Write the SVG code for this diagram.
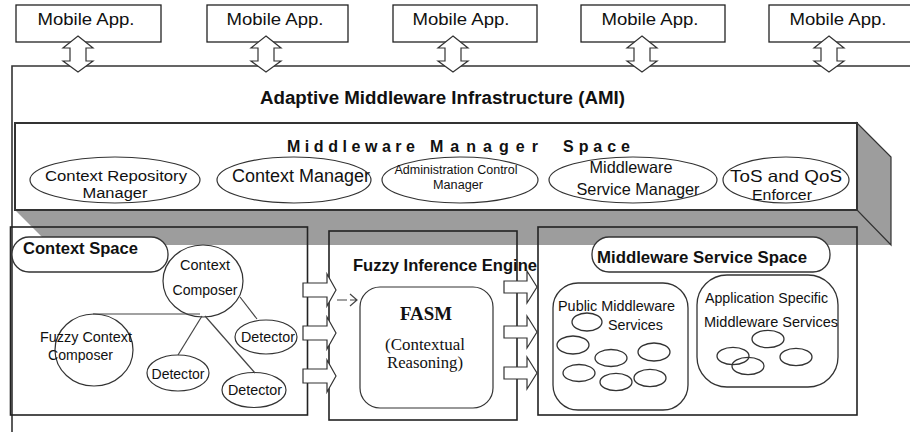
<svg xmlns="http://www.w3.org/2000/svg" width="910" height="432" viewBox="0 0 910 432">
<style>
.t{font-family:"Liberation Sans",Arial,sans-serif;fill:#111}
.b{font-weight:bold}
.s{font-family:"Liberation Serif","Times New Roman",serif;fill:#111}
.box{fill:#fff;stroke:#222;stroke-width:1.3}
.frame{fill:none;stroke:#222;stroke-width:1.6}
.el{fill:#fff;stroke:#333;stroke-width:1.2}
.sm{fill:none;stroke:#333;stroke-width:1.3}
.lbl{fill:#fff;stroke:#333;stroke-width:1.3}
.arr{fill:#fff;stroke:#333;stroke-width:1.2}
.ln{stroke:#444;stroke-width:1.2;fill:none}
</style>
<rect x="0" y="0" width="910" height="432" fill="#fff"/>
<g id="ami">
<path d="M12,440 V66 H920" fill="none" stroke="#333" stroke-width="1.6"/>
<text class="t b" x="260" y="104" font-size="18" textLength="365" lengthAdjust="spacingAndGlyphs">Adaptive Middleware Infrastructure (AMI)</text>
</g>
<g id="apps">
<g id="app1"><rect class="box" x="16" y="5" width="145" height="37"/><text class="t" x="86" y="25" font-size="17" text-anchor="middle" textLength="97" lengthAdjust="spacingAndGlyphs">Mobile App.</text></g>
<g id="app2"><rect class="box" x="207" y="5" width="141" height="37"/><text class="t" x="275" y="25" font-size="17" text-anchor="middle" textLength="97" lengthAdjust="spacingAndGlyphs">Mobile App.</text></g>
<g id="app3"><rect class="box" x="393" y="5" width="144" height="37"/><text class="t" x="461" y="25" font-size="17" text-anchor="middle" textLength="97" lengthAdjust="spacingAndGlyphs">Mobile App.</text></g>
<g id="app4"><rect class="box" x="581" y="5" width="144" height="37"/><text class="t" x="650" y="25" font-size="17" text-anchor="middle" textLength="97" lengthAdjust="spacingAndGlyphs">Mobile App.</text></g>
<g id="app5"><rect class="box" x="769" y="5" width="150" height="37"/><text class="t" x="838" y="25" font-size="17" text-anchor="middle" textLength="97" lengthAdjust="spacingAndGlyphs">Mobile App.</text></g>
</g>
<g id="manager-space">
<path d="M15,210 L857,123 L891,157 L891,245 L50,245 Z" fill="#9d9d9d"/>
<path d="M857,123 L891,157 L891,245 L857,210 Z" fill="#9d9d9d" stroke="#333" stroke-width="1.2"/>
<rect x="15" y="123" width="842" height="87" fill="#fff" stroke="#333" stroke-width="2"/>
<text class="t b" x="287" y="152" font-size="16" textLength="128" lengthAdjust="spacing">Middleware</text>
<text class="t b" x="430" y="152" font-size="16" textLength="108" lengthAdjust="spacing">Manager</text>
<text class="t b" x="563" y="152" font-size="16" textLength="67" lengthAdjust="spacing">Space</text>
<g id="crm"><ellipse class="el" cx="115" cy="180" rx="85" ry="23"/><text class="t" x="116" y="181" font-size="15.5" text-anchor="middle" textLength="142" lengthAdjust="spacingAndGlyphs">Context Repository</text><text class="t" x="115" y="198" font-size="15.5" text-anchor="middle" textLength="65" lengthAdjust="spacingAndGlyphs">Manager</text></g>
<g id="cm"><ellipse class="el" cx="294" cy="180" rx="77" ry="23"/><text class="t" x="301" y="182" font-size="18" text-anchor="middle" textLength="138" lengthAdjust="spacingAndGlyphs">Context Manager</text></g>
<g id="acm"><ellipse class="el" cx="460" cy="180" rx="78" ry="23"/><text class="t" x="456" y="174" font-size="12.5" text-anchor="middle" textLength="123" lengthAdjust="spacingAndGlyphs">Administration Control</text><text class="t" x="458" y="189" font-size="12.5" text-anchor="middle" textLength="50" lengthAdjust="spacingAndGlyphs">Manager</text></g>
<g id="msm"><ellipse class="el" cx="633" cy="180" rx="84" ry="23"/><text class="t" x="631" y="173" font-size="16.5" text-anchor="middle" textLength="83" lengthAdjust="spacingAndGlyphs">Middleware</text><text class="t" x="638" y="195" font-size="16.5" text-anchor="middle" textLength="123" lengthAdjust="spacingAndGlyphs">Service Manager</text></g>
<g id="tqe"><ellipse class="el" cx="786" cy="180" rx="63" ry="23"/><text class="t" x="786" y="182" font-size="16.5" text-anchor="middle" textLength="112" lengthAdjust="spacingAndGlyphs">ToS and QoS</text><text class="t" x="782" y="200" font-size="15" text-anchor="middle" textLength="60" lengthAdjust="spacingAndGlyphs">Enforcer</text></g>
</g>
<g id="context-space">
<rect class="frame" x="10.5" y="227" width="297" height="188"/>
<rect class="lbl" x="12" y="237" width="156" height="35" rx="17"/>
<text class="t b" x="23" y="254" font-size="17" textLength="115" lengthAdjust="spacingAndGlyphs">Context Space</text>
<g id="context-composer"><ellipse class="el" cx="203" cy="281" rx="40" ry="36"/><text class="t" x="205" y="270" font-size="14.5" text-anchor="middle" textLength="50" lengthAdjust="spacingAndGlyphs">Context</text><text class="t" x="205" y="295" font-size="14.5" text-anchor="middle" textLength="65" lengthAdjust="spacingAndGlyphs">Composer</text></g>
<g id="fuzzy-context-composer"><ellipse class="el" cx="94" cy="350" rx="39" ry="36"/><text class="t" x="40" y="342" font-size="14.5" textLength="92" lengthAdjust="spacingAndGlyphs">Fuzzy Context</text><text class="t" x="48" y="360" font-size="14.5" textLength="65" lengthAdjust="spacingAndGlyphs">Composer</text></g>
<g id="detector1"><ellipse class="el" cx="266" cy="337" rx="31" ry="17"/><text class="t" x="268" y="342" font-size="14.5" text-anchor="middle" textLength="54" lengthAdjust="spacingAndGlyphs">Detector</text></g>
<g id="detector2"><ellipse class="el" cx="178" cy="373" rx="31" ry="18"/><text class="t" x="178" y="379" font-size="14.5" text-anchor="middle" textLength="53" lengthAdjust="spacingAndGlyphs">Detector</text></g>
<g id="detector3"><ellipse class="el" cx="254" cy="390" rx="32" ry="17.5"/><text class="t" x="255" y="395" font-size="14.5" text-anchor="middle" textLength="54" lengthAdjust="spacingAndGlyphs">Detector</text></g>
</g>
<g id="fuzzy-inference-engine">
<rect class="frame" x="329" y="231" width="188" height="189"/>
<text class="t b" x="353" y="271" font-size="17" textLength="184" lengthAdjust="spacingAndGlyphs">Fuzzy Inference Engine</text>
<g id="fasm"><rect class="el" x="360" y="287" width="133" height="121" rx="20"/>
<text class="s" x="426" y="320" font-size="18" font-weight="bold" text-anchor="middle" textLength="52" lengthAdjust="spacingAndGlyphs">FASM</text>
<text class="s" x="425" y="350" font-size="17" text-anchor="middle" textLength="80" lengthAdjust="spacingAndGlyphs">(Contextual</text>
<text class="s" x="425" y="368" font-size="17" text-anchor="middle" textLength="76" lengthAdjust="spacingAndGlyphs">Reasoning)</text></g>
</g>
<g id="middleware-service-space">
<rect class="frame" x="538" y="227" width="319" height="188"/>
<rect class="lbl" x="592" y="237" width="238" height="35" rx="17"/>
<text class="t b" x="597" y="263" font-size="17" textLength="210" lengthAdjust="spacingAndGlyphs">Middleware Service Space</text>
<g id="public-services"><rect class="sm" x="553" y="283" width="135" height="127" rx="25"/>
<text class="t" x="558" y="311" font-size="14.5" textLength="117" lengthAdjust="spacingAndGlyphs">Public Middleware</text>
<text class="t" x="608" y="330" font-size="14.5" textLength="55" lengthAdjust="spacingAndGlyphs">Services</text>
<ellipse class="sm" cx="587" cy="322" rx="15" ry="9"/>
<ellipse class="sm" cx="573" cy="345" rx="16" ry="9"/>
<ellipse class="sm" cx="611" cy="358" rx="16" ry="8.5"/>
<ellipse class="sm" cx="654" cy="352" rx="16" ry="9"/>
<ellipse class="sm" cx="579" cy="373" rx="16" ry="8.5"/>
<ellipse class="sm" cx="616" cy="382" rx="16" ry="8.7" stroke-width="1.8"/>
<ellipse class="sm" cx="650" cy="378" rx="16" ry="8.7"/></g>
<g id="app-specific-services"><rect class="sm" x="697" y="275" width="141" height="112" rx="30"/>
<text class="t" x="705" y="303" font-size="14.5" textLength="123" lengthAdjust="spacingAndGlyphs">Application Specific</text>
<text class="t" x="704" y="327" font-size="14.5" textLength="134" lengthAdjust="spacingAndGlyphs">Middleware Services</text>
<ellipse class="sm" cx="768" cy="339" rx="16" ry="8.7"/>
<ellipse class="sm" cx="733" cy="356" rx="16" ry="8.7"/>
<ellipse class="sm" cx="748" cy="366" rx="16" ry="8.7"/>
<ellipse class="sm" cx="796" cy="357" rx="16" ry="8.7"/></g>
</g>
<g id="connectors">
<path class="arr" d="M78,36 L93,48 L86,48 L86,61 L93,61 L78,72 L63,61 L70,61 L70,48 L63,48 Z"/>
<path class="arr" d="M266,36 L281,48 L274,48 L274,61 L281,61 L266,72 L251,61 L258,61 L258,48 L251,48 Z"/>
<path class="arr" d="M453,36 L468,48 L461,48 L461,61 L468,61 L453,72 L438,61 L445,61 L445,48 L438,48 Z"/>
<path class="arr" d="M642,36 L657,48 L650,48 L650,61 L657,61 L642,72 L627,61 L634,61 L634,48 L627,48 Z"/>
<path class="arr" d="M829,36 L844,48 L837,48 L837,61 L844,61 L829,72 L814,61 L821,61 L821,48 L814,48 Z"/>
<path class="ln" d="M93,314 H200"/>
<path class="ln" d="M240,297 L257,319"/>
<path class="ln" d="M202,316 L178,355"/>
<path class="ln" d="M205,316 L255,373"/>
<path class="arr" d="M303,283 H327 V274 L336,290 L327,306 V297 H303 Z"/>
<path class="arr" d="M303,326 H327 V317 L336,333 L327,349 V340 H303 Z"/>
<path class="arr" d="M303,369 H327 V360 L336,376 L327,392 V383 H303 Z"/>
<path class="ln" d="M337,300 H347 M350,300 H357 M350,294 L357,300 L350,306"/>
<path class="arr" d="M504,281 H527 V271 L537,287 L527,303 V293 H504 Z"/>
<path class="arr" d="M504,326 H527 V316 L537,332 L527,348 V338 H504 Z"/>
<path class="arr" d="M504,367 H527 V357 L537,373 L527,389 V379 H504 Z"/>
</g>
</svg>
